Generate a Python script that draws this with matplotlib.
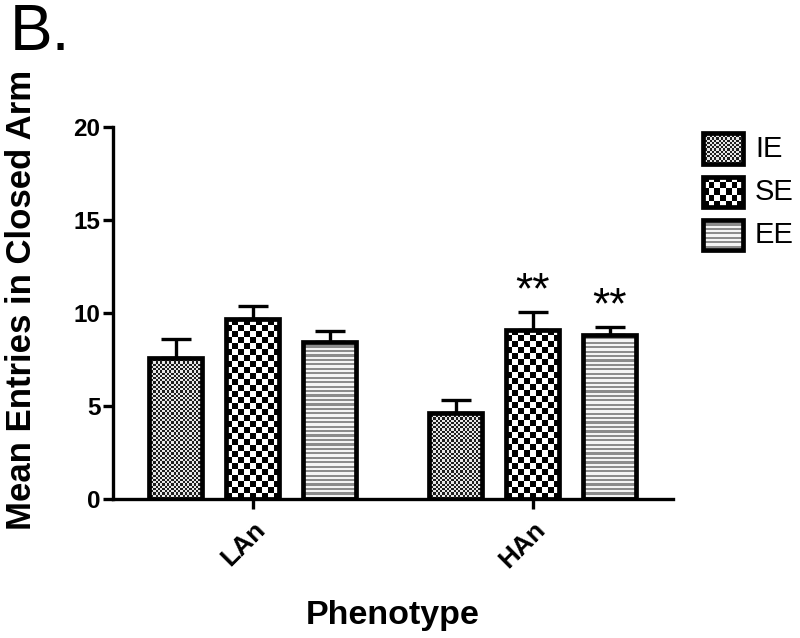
import numpy as np
import matplotlib
matplotlib.use('Agg')
import matplotlib.pyplot as plt
import matplotlib.transforms as mtransforms
from matplotlib.patches import Rectangle
from matplotlib.colors import ListedColormap

plt.rcParams['font.family'] = ['Liberation Sans', 'DejaVu Sans']

phenotypes = ['LAn', 'HAn']
groups = ['IE', 'SE', 'EE']
means = {'IE': [7.6, 4.6], 'SE': [9.65, 9.1], 'EE': [8.45, 8.8]}
sems = {'IE': [1.0, 0.72], 'SE': [0.7, 0.95], 'EE': [0.58, 0.45]}
stars = {'SE': ['', '**'], 'EE': ['', '**']}

textures = {'IE': ('check', 2.2, ['#1e1e1e', '#e6e6e6']),
            'SE': ('check', 6.0, ['#000000', '#ffffff']),
            'EE': ('stripe', 2.2, ['#8c8c8c', '#f4f4f4'])}


def texture(ax, patch, kind, cell, colors, zorder=2):
    x0, y0 = patch.get_xy()
    w, h = patch.get_width(), patch.get_height()
    p = ax.transData.transform([[x0, y0], [x0 + w, y0 + h]])
    pw, ph = np.abs(p[1] - p[0])
    nx = max(int(round(pw / cell)), 1)
    ny = max(int(round(ph / cell)), 1)
    yy, xx = np.mgrid[0:ny, 0:nx]
    if kind == 'check':
        img = (xx + yy) % 2
    else:
        img = yy % 2
    ax.imshow(img, cmap=ListedColormap(colors), extent=(x0, x0 + w, y0, y0 + h),
              origin='lower', interpolation='nearest', aspect='auto',
              clip_path=patch, zorder=zorder, vmin=0, vmax=1)


fig = plt.figure(figsize=(8, 6.38), dpi=100)
ax = fig.add_axes([0.141, 0.218, 0.70, 0.583])

step = 1.0
width = 0.69
centers = np.array([0.0, 3.64])
ax.set_xlim(-1.82, 5.46)
ax.set_ylim(0, 20)

for i, g in enumerate(groups):
    xs = centers + (i - 1) * step
    bars = ax.bar(xs, means[g], width, facecolor='none', edgecolor='black',
                  linewidth=3.4, zorder=3)
    ax.errorbar(xs, means[g], yerr=[np.zeros(2), sems[g]], fmt='none',
                ecolor='black', elinewidth=2.4, capsize=10.5, capthick=2.4, zorder=1)
    kind, cell, cols = textures[g]
    for b in bars:
        texture(ax, b, kind, cell, cols)
    if g in stars:
        for x, m, s, t in zip(xs, means[g], sems[g], stars[g]):
            if t:
                ax.annotate(t, (x, m + s), xytext=(0, 0), textcoords='offset points',
                            ha='center', va='bottom', fontsize=32)

ax.set_xlim(-1.82, 5.46)
ax.set_ylim(0, 20)
ax.set_yticks([0, 5, 10, 15, 20])
ax.set_xticks(centers)
ax.set_xticklabels(phenotypes, rotation=45, ha='right', rotation_mode='anchor',
                   fontsize=19, fontweight='bold')
shift = mtransforms.ScaledTranslation(-6 / 72, 0, fig.dpi_scale_trans)
for lab in ax.get_xticklabels():
    lab.set_transform(lab.get_transform() + shift)
for lab in ax.get_yticklabels():
    lab.set_fontweight('bold')
    lab.set_fontsize(17.5)
ax.tick_params(axis='both', length=7, width=2.4, direction='out', pad=2)
ax.tick_params(axis='x', pad=6)
for s in ['top', 'right']:
    ax.spines[s].set_visible(False)
for s in ['left', 'bottom']:
    ax.spines[s].set_linewidth(2.4)
ax.set_ylabel('Mean Entries in Closed Arm', fontsize=25, fontweight='bold')
ax.yaxis.set_label_coords(-0.133, 0.535)
ax.set_xlabel('Phenotype', fontsize=24.5, fontweight='bold', labelpad=20)

# legend drawn by hand so the textures match
lax = fig.add_axes([0.86, 0.56, 0.14, 0.27])
lax.set_xlim(0, 112)
lax.set_ylim(172, 0)
lax.axis('off')
for i, g in enumerate(groups):
    yc = 40 + i * 43
    r = Rectangle((15, yc - 15), 40, 30, facecolor='none', edgecolor='black',
                  linewidth=3.4, zorder=3)
    lax.add_patch(r)
    kind, cell, cols = textures[g]
    texture(lax, r, kind, cell, cols)
    lax.text(67, yc, g, fontsize=21, va='center', ha='left')
lax.set_xlim(0, 112)
lax.set_ylim(172, 0)

fig.text(0.012, 0.995, 'B.', fontsize=46, va='top', ha='left')

fig.savefig('out.png', dpi=100)
